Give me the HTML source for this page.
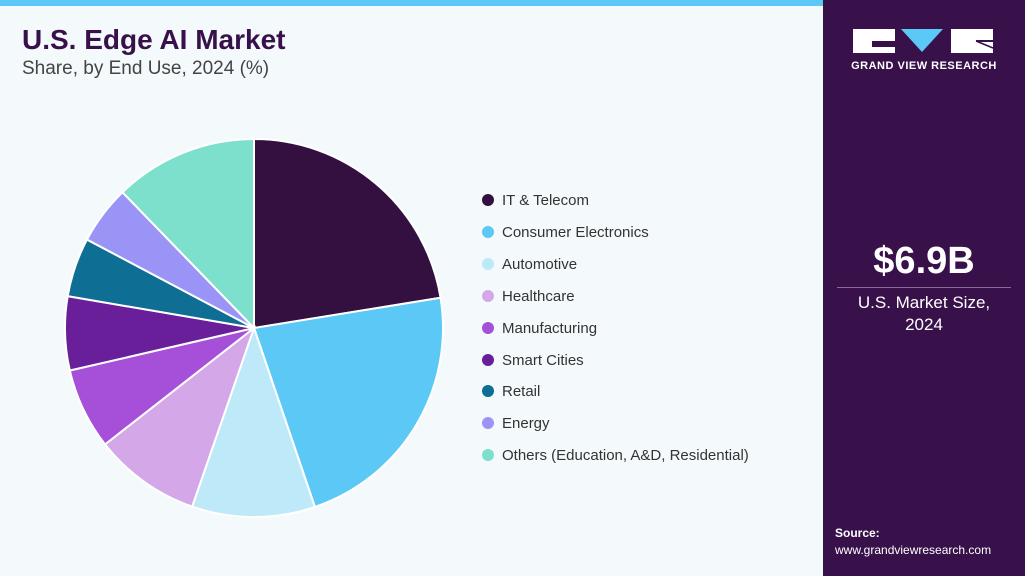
<!DOCTYPE html>
<html><head><meta charset="utf-8"><style>
body{margin:0;width:1025px;height:576px;overflow:hidden;background:#fff;font-family:"Liberation Sans",sans-serif;}
#left{position:absolute;left:0;top:0;width:823px;height:576px;background:#f4f9fc;border-top:6px solid #5bc8f5;box-sizing:border-box}
#right{position:absolute;left:823px;top:0;width:202px;height:576px;background:#38114a}
.t1{position:absolute;left:22px;font-size:28px;font-weight:bold;color:#38114a}
.t2{position:absolute;left:22px;font-size:19px;color:#444}
.leg{position:absolute;left:482px;font-size:15px;color:#333}
.leg span{display:inline-block;width:12px;height:12px;border-radius:50%;margin-right:8px;vertical-align:-1px}
</style></head><body>
<div id="left">
<div class="t1" style="top:18px">U.S. Edge AI Market</div>
<div class="t2" style="top:52px">Share, by End Use, 2024 (%)</div>
</div>
<svg id="pie" width="823" height="576" style="position:absolute;left:0;top:0"></svg>
<div class="leg" style="top:192px"><span style="background:#33103f"></span>IT &amp; Telecom</div>
<div class="leg" style="top:224px"><span style="background:#5bc8f5"></span>Consumer Electronics</div>
<div class="leg" style="top:256px"><span style="background:#bde9f8"></span>Automotive</div>
<div class="leg" style="top:288px"><span style="background:#d4a8e8"></span>Healthcare</div>
<div class="leg" style="top:320px"><span style="background:#a64fd8"></span>Manufacturing</div>
<div class="leg" style="top:352px"><span style="background:#6a1f9a"></span>Smart Cities</div>
<div class="leg" style="top:383px"><span style="background:#0e6e94"></span>Retail</div>
<div class="leg" style="top:415px"><span style="background:#9b94f7"></span>Energy</div>
<div class="leg" style="top:447px"><span style="background:#7de0cc"></span>Others (Education, A&amp;D, Residential)</div>
<div id="right">
<svg width="202" height="60" style="position:absolute;left:0;top:0">
<rect x="30" y="29" width="42" height="24" fill="#fff"/><rect x="49" y="41" width="23" height="6" fill="#38114a"/>
<polygon points="78,29 120,29 99,52" fill="#5bc8f5"/>
<rect x="128" y="29" width="42" height="24" fill="#fff"/><polyline points="153,41 170,41" stroke="#38114a" stroke-width="2"/><line x1="153" y1="41" x2="170" y2="48" stroke="#38114a" stroke-width="1.5"/>
</svg>
<div style="position:absolute;left:0;width:202px;top:60px;text-align:center;color:#fff;font-size:11px;font-weight:bold;letter-spacing:0.5px">GRAND VIEW RESEARCH</div>
<div style="position:absolute;left:0;width:202px;top:240px;text-align:center;color:#fff;font-size:38px;font-weight:bold">$6.9B</div>
<div style="position:absolute;left:14px;width:174px;top:287px;border-top:1px solid #8a6a99"></div>
<div style="position:absolute;left:0;width:202px;top:292px;text-align:center;color:#fff;font-size:17px;line-height:22px">U.S. Market Size,<br>2024</div>
<div style="position:absolute;left:12px;top:526px;color:#fff;font-size:12px;font-weight:bold">Source:</div>
<div style="position:absolute;left:12px;top:543px;color:#fff;font-size:12px">www.grandviewresearch.com</div>
</div>
<script>
var s=document.getElementById('pie'),cx=254,cy=328,r=189;
var a=[0,80.8,161.2,199.1,232,257,279.7,297.9,315.9,360];
var c=['#33103f','#5bc8f5','#bde9f8','#d4a8e8','#a64fd8','#6a1f9a','#0e6e94','#9b94f7','#7de0cc'];
function p(d){d=d*Math.PI/180;return (cx+r*Math.sin(d)).toFixed(2)+','+(cy-r*Math.cos(d)).toFixed(2);}
var h='';
for(var i=0;i<9;i++){h+='<path d="M'+cx+','+cy+' L'+p(a[i])+' A'+r+','+r+' 0 '+((a[i+1]-a[i])>180?1:0)+' 1 '+p(a[i+1])+' Z" fill="'+c[i]+'" stroke="#fff" stroke-width="2"/>';}
s.innerHTML=h;
</script>
</body></html>
